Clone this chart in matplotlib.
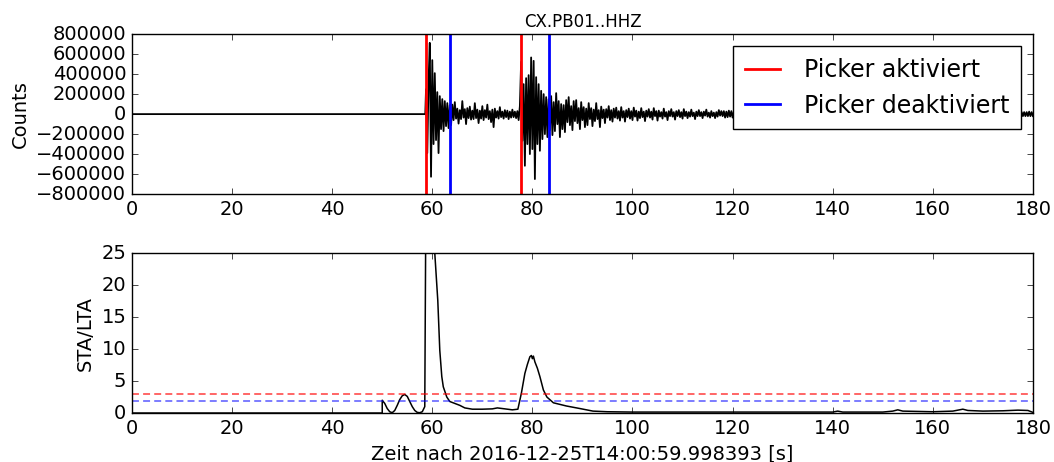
import numpy as np
import matplotlib
matplotlib.use("Agg")
import matplotlib.pyplot as plt

# Seismogram CX.PB01..HHZ, counts in units of 1000, sampled every 0.25 s from onset
station = "CX.PB01..HHZ"
start_time = "2016-12-25T14:00:59.998393"
onset = 58.75
dt = 0.25
quiet_t = [0.0, 58.6]
quiet_counts = [0, 0]
counts_k = [
    # first arrival
    250, -390, 320, 713, -627, 540, -300, 410, -260, 220, -390, 180, -150, 150, -170, 130, -120, 110, -140, 90,
    # coda between arrivals
    -110, 95, -60, 120, -45, 55, -95, 40, -50, 130, -35, 50, -100, 60, -40, 75,
    -55, 35, -50, 110, -40, 45, -90, 35, -45, 80, -60, 40, -35, 95, -50, 30,
    -80, 45, -130, 55, -35, 30, -45, 70, -30, 25, -45, 40, -30, 35, -50, 25,
    -35, 45, -30, 25, -40, 30, -60, 80,
    # second arrival
    523, -267, 300, -517, 360, -300, 390, -400, 567, -350, 533, -650,
    370, -300, 300, -367, 233, -250, 200, -200, 170, -230, 150, -160,
    # decaying coda
    180, -210, 120, -170, 210, -100, 130, -230,
    100, -150, 90, -180, 140, -80, 170, -110,
    80, -160, 130, -70, 140, -90, 60, -150,
    120, -60, 70, -130, 55, -110, 110, -50,
    60, -120, 45, -70, 110, -50, 40, -130,
    75, -40, 45, -90, 50, -35, 80, -60,
    40, -75, 55, -35, 65, -45, 30, -65,
    70, -35, 30, -75, 40, -30, 55, -45,
    30, -60, 65, -25, 35, -65, 25, -40,
    60, -30, 25, -70, 35, -25, 50, -35,
    25, -55, 60, -20, 30, -65, 35, -25,
    20, -45, 55, -25, 20, -60, 30, -20,
    50, -25, 20, -55, 30, -20, 40, -30,
    20, -45, 50, -20, 25, -40, 20, -25,
    45, -20, 15, -50, 25, -20, 40, -20,
    20, -40, 25, -15, 45, -25, 15, -35,
    30, -20, 15, -40, 20, -25, 40, -15,
    30, -20,
    # late coda
    30, -35, 25, -30, 35, -25, 30, -35,
    25, -30, 30, -25, 35, -30, 25, -30,
    30, -25, 35, -30, 25, -35, 30, -25,
    25, -30, 30, -35, 25, -25, 30, -30,
    35, -25, 25, -30, 30, -25, 25, -35,
    30, -30, 25, -25, 35, -30, 25, -25,
    25, -30, 30, -25, 25, -30, 30, -25,
    30, -25, 25, -30, 25, -25, 30, -30,
    25, -30, 30, -25, 25, -20, 30, -25,
    25, -25, 20, -30, 25, -25, 30, -20,
    20, -25, 25, -30, 20, -25, 25, -20,
    25, -20, 30, -25, 20, -25, 25, -30,
    20, -25, 25, -20, 30, -25, 20, -25,
    25, -20, 20, -25, 25, -30, 20, -20,
    25, -25, 20, -20, 30, -25, 25, -20,
    20, -25, 25, -20, 20, -25, 25, -25,
    20, -20, 25, -25, 20, -25, 20, -20,
    25, -20, 20, -25, 25, -20, 20, -25,
    20, -25, 20, -20, 25, -20, 25, -20,
    20, -20, 25, -25, 20, -20, 20, -25,
    25, -20, 20, -20, 25, -25, 20, -20,
    20, -25, 25, -20, 20, -20, 25, -20,
    20, -20, 20, -25, 25, -20, 20, -20,
    25, -20, 20, -20, 20, -25, 20, -20,
    20, -25, 20, -20, 25, -20, 20, -25,
    20, -20, 25, -20, 20, -20, 25, -20,
    20, -20, 20, -25, 20, -20, 20, -20,
    25, -20, 20, -20, 20, -25, 20, -20,
    20, -20, 25, -20, 20, -20, 20, -25,
    20, -25, 20, -20, 25, -20, 20, -20,
    20, -20, 20, -20, 25, -20, 20, -20,
]

# STA/LTA characteristic function
cft_t = [0.0, 50.0, 50.0, 50.5, 51.0, 51.5, 52.0, 52.5, 53.0, 53.5, 54.0, 54.5,
         55.0, 55.5, 56.0, 56.5, 57.0, 57.5, 58.0, 58.5, 58.7, 59.2, 60.0, 60.5,
         61.1, 61.5, 61.9, 62.2, 62.9, 63.5, 64.5, 65.5, 66.5, 68.0, 70.0, 72.0,
         73.0, 74.0, 76.0, 77.1, 77.8, 78.5, 79.0, 79.5, 79.8, 80.0, 80.2, 80.5,
         81.0, 81.5, 82.2, 82.9, 84.2, 86.8, 89.5, 92.1, 95.0, 100.0, 110.0, 120.0,
         130.0, 140.0, 141.0, 142.0, 150.0, 152.0, 153.0, 154.0, 160.0, 164.0, 166.0,
         167.0, 170.0, 174.0, 177.0, 179.0, 180.0]
cft = [0.0, 0.0, 2.0, 1.5, 0.7, 0.2, 0.05, 0.4, 1.2, 2.1, 2.7, 2.9,
       2.6, 1.8, 1.0, 0.4, 0.1, 0.05, 0.2, 1.0, 30.0, 45.0, 40.0, 25.0,
       17.6, 9.8, 5.7, 4.1, 2.5, 1.8, 1.5, 1.2, 0.8, 0.6, 0.6, 0.65,
       0.8, 0.7, 0.5, 0.6, 3.1, 6.2, 7.6, 8.8, 9.0, 8.5, 8.9, 8.0,
       7.0, 5.7, 3.6, 2.5, 1.6, 1.1, 0.7, 0.3, 0.2, 0.15, 0.15, 0.15,
       0.15, 0.15, 0.3, 0.15, 0.15, 0.3, 0.5, 0.3, 0.2, 0.3, 0.6,
       0.4, 0.3, 0.35, 0.45, 0.4, 0.1]

thr_on = 3.0
thr_off = 1.9
picks_on = [58.7, 77.7]
picks_off = [63.5, 83.3]

trace_t = np.concatenate([quiet_t, onset + dt * np.arange(len(counts_k))])
trace = np.concatenate([quiet_counts, np.array(counts_k) * 1000.0])

plt.style.use("classic")
plt.rcParams["font.family"] = ["DejaVu Sans"]

fig = plt.figure(figsize=(10.54, 4.62), dpi=100, facecolor="white")
ax1 = fig.add_axes([0.1252, 0.580, 0.8548, 0.346])
ax2 = fig.add_axes([0.1252, 0.106, 0.8548, 0.346])

# waveform with trigger on/off picks
ax1.plot(trace_t, trace, "k", lw=1.3)
for i, p in enumerate(picks_on):
    ax1.axvline(p, color="r", lw=2, label="Picker aktiviert" if i == 0 else None)
for i, p in enumerate(picks_off):
    ax1.axvline(p, color="b", lw=2, label="Picker deaktiviert" if i == 0 else None)
ax1.set_xlim(0, 180)
ax1.set_ylim(-800000, 800000)
ax1.set_yticks(np.arange(-800000, 800001, 200000))
ax1.set_ylabel("Counts", fontsize=14)
ax1.set_title(station, fontsize=12)
ax1.tick_params(labelsize=14)
ax1.legend(loc="upper right", fontsize=17, frameon=True, fancybox=False,
           numpoints=1, handlelength=1.5, handletextpad=1.0,
           labelspacing=0.5, borderpad=0.5, borderaxespad=0.5)

# characteristic function with thresholds
ax2.plot(cft_t, cft, "k", lw=1.1)
ax2.axhline(thr_on, color="r", ls=(0, (5, 3)), lw=1.2, alpha=0.7)
ax2.axhline(thr_off, color="b", ls=(0, (5, 3)), lw=1.2, alpha=0.6)
ax2.set_xlim(0, 180)
ax2.set_ylim(0, 25)
ax2.set_ylabel("STA/LTA", fontsize=14)
ax2.set_xlabel("Zeit nach %s [s]" % start_time, fontsize=14)
ax2.tick_params(labelsize=14)

fig.savefig("out.png", dpi=100, facecolor="white")
